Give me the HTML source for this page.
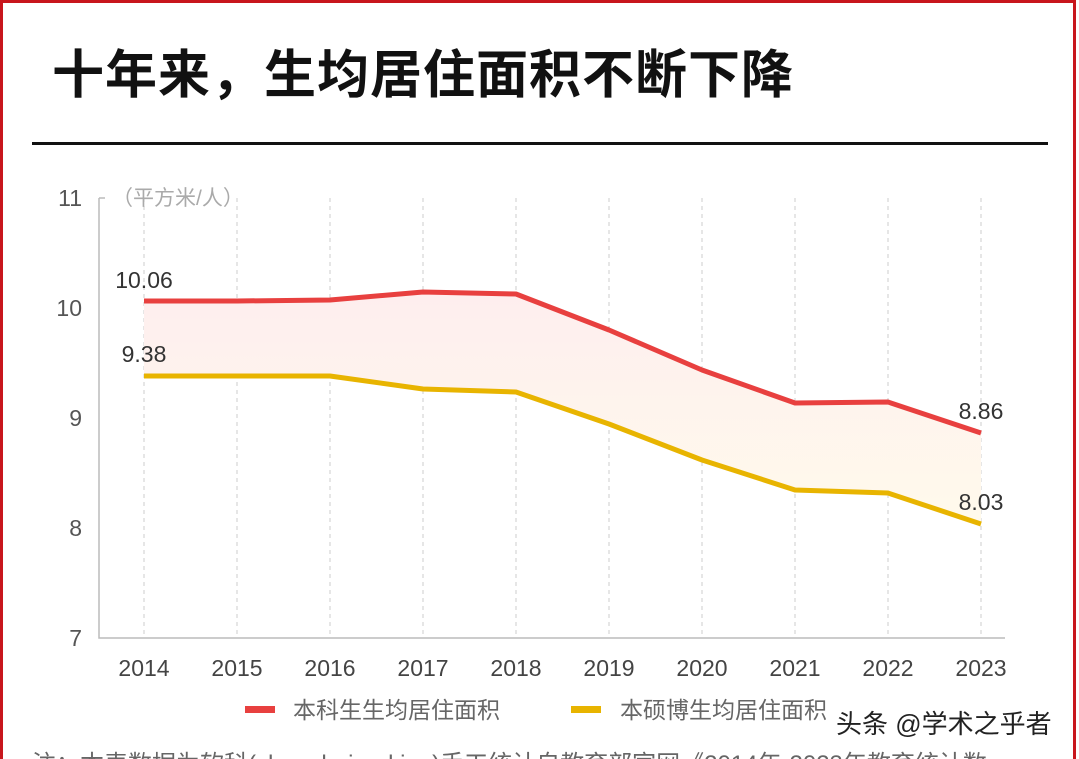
<!DOCTYPE html>
<html><head><meta charset="utf-8"><style>
html,body{margin:0;width:1079px;height:759px;overflow:hidden;background:#fff;font-family:"Liberation Sans","Noto Sans CJK SC",sans-serif;}
.wrap{position:absolute;left:0;top:0;width:1076px;height:759px;border:3px solid #c8161d;border-bottom:none;box-sizing:border-box;}
</style></head><body>
<div class="wrap"></div>
<div style="position:absolute;left:52px;top:36px;font-size:52px;font-weight:bold;color:#111;letter-spacing:1px;font-family:'Noto Sans CJK SC',sans-serif;line-height:70px;white-space:nowrap">十年来，生均居住面积不断下降</div>
<div style="position:absolute;left:32px;top:142px;width:1016px;height:3px;background:#111"></div>
<svg style="position:absolute;left:0;top:0;overflow:hidden" width="1079" height="759" font-family="Liberation Sans,Noto Sans CJK SC,sans-serif">
<defs><linearGradient id="g" x1="0" y1="0" x2="0" y2="1"><stop offset="0" stop-color="#feeeee"/><stop offset="1" stop-color="#fffaec"/></linearGradient></defs>
<g stroke="#ccc" stroke-dasharray="4,4" stroke-width="1">
<line x1="144" y1="198" x2="144" y2="638"/><line x1="237" y1="198" x2="237" y2="638"/><line x1="330" y1="198" x2="330" y2="638"/><line x1="423" y1="198" x2="423" y2="638"/><line x1="516" y1="198" x2="516" y2="638"/><line x1="609" y1="198" x2="609" y2="638"/><line x1="702" y1="198" x2="702" y2="638"/><line x1="795" y1="198" x2="795" y2="638"/><line x1="888" y1="198" x2="888" y2="638"/><line x1="981" y1="198" x2="981" y2="638"/>
</g>
<path d="M99 198V638H1005M99 198h6" stroke="#bbb" fill="none" stroke-width="1.5"/>
<g fill="#555" font-size="23" text-anchor="end"><text x="82" y="206">11</text><text x="82" y="316">10</text><text x="82" y="426">9</text><text x="82" y="536">8</text><text x="82" y="646">7</text></g>
<text x="112" y="205" fill="#aaa" font-size="21">（平方米/人）</text>
<g fill="#444" font-size="23" text-anchor="middle"><text x="144" y="676">2014</text><text x="237" y="676">2015</text><text x="330" y="676">2016</text><text x="423" y="676">2017</text><text x="516" y="676">2018</text><text x="609" y="676">2019</text><text x="702" y="676">2020</text><text x="795" y="676">2021</text><text x="888" y="676">2022</text><text x="981" y="676">2023</text></g>
<path d="M144 301L237 301L330 300L423 292L516 294L609 330L702 370L795 403L888 402L981 433L981 524L888 493L795 490L702 460L609 424L516 392L423 389L330 376L237 376L144 376Z" fill="url(#g)"/>
<polyline points="144,301 237,301 330,300 423,292 516,294 609,330 702,370 795,403 888,402 981,433" fill="none" stroke="#e8403f" stroke-width="5" stroke-linejoin="round"/>
<polyline points="144,376 237,376 330,376 423,389 516,392 609,424 702,460 795,490 888,493 981,524" fill="none" stroke="#e8b400" stroke-width="5" stroke-linejoin="round"/>
<g fill="#333" font-size="23" text-anchor="middle"><text x="144" y="288">10.06</text><text x="144" y="362">9.38</text><text x="981" y="419">8.86</text><text x="981" y="510">8.03</text></g>
<rect x="245" y="706" width="30" height="7" fill="#e8403f"/><rect x="571" y="706" width="30" height="7" fill="#e8b400"/>
<g fill="#666" font-size="23"><text x="293" y="718">本科生生均居住面积</text><text x="620" y="718">本硕博生均居住面积</text></g>
<text x="836" y="733" fill="#222" font-size="26">头条 @学术之乎者</text>
<text x="32" y="772" fill="#666" font-size="24">注：本表数据为软科(shanghairanking)手工统计自教育部官网《2014年-2023年教育统计数</text>
</svg>
</body></html>
